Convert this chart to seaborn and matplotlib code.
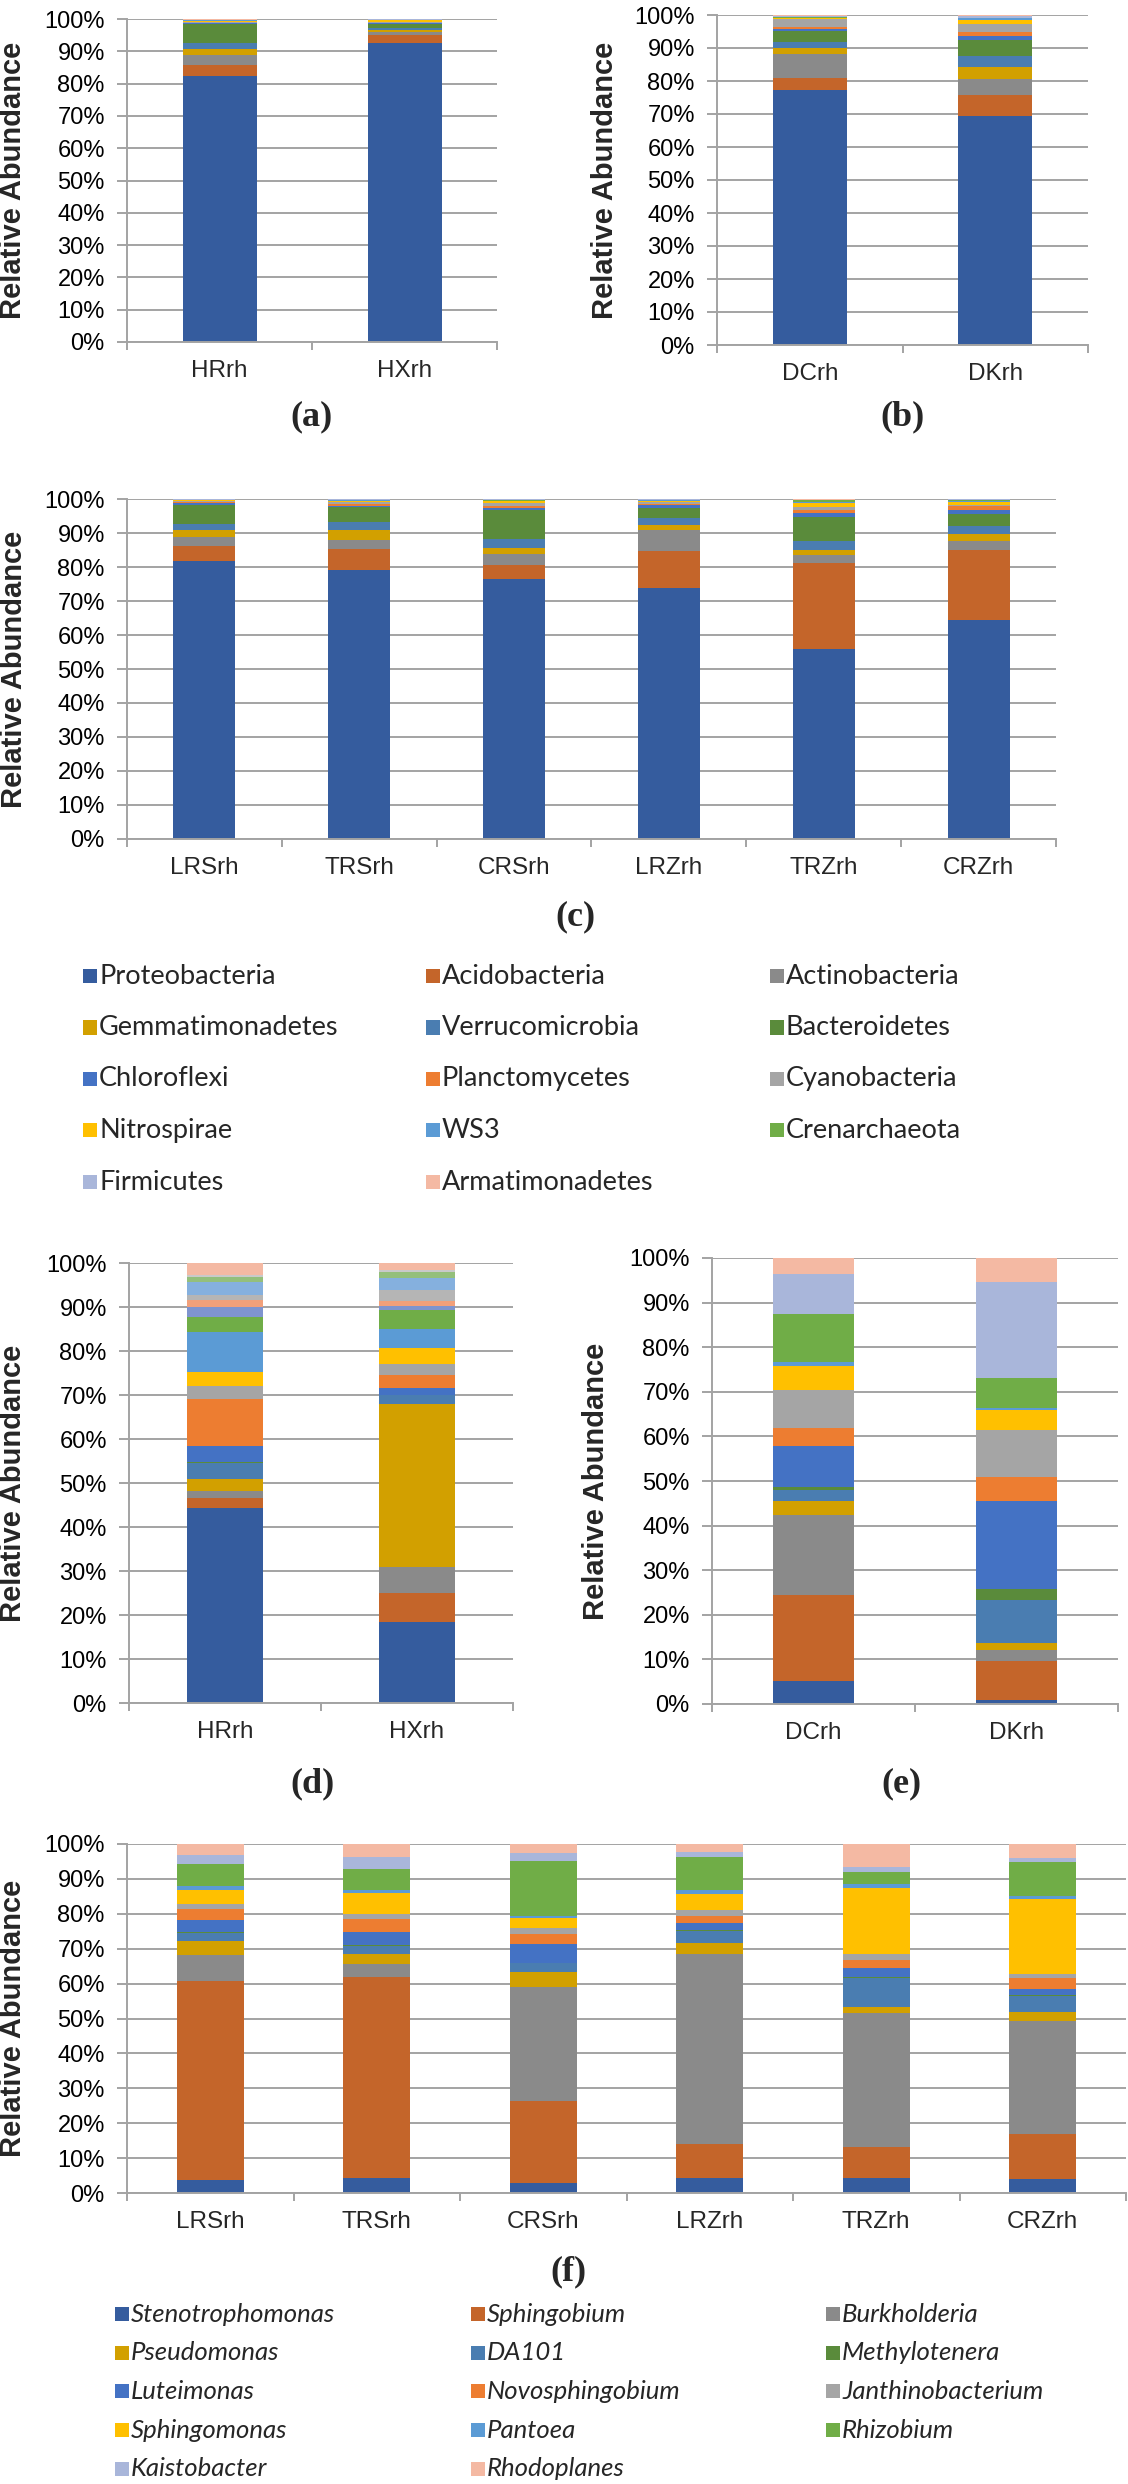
import numpy as np
import matplotlib
matplotlib.use("Agg")
import matplotlib.pyplot as plt
import seaborn as sns
from matplotlib.patches import Rectangle
from matplotlib import font_manager

# ---------------- data ----------------
phyla = ["Proteobacteria", "Acidobacteria", "Actinobacteria", "Gemmatimonadetes",
         "Verrucomicrobia", "Bacteroidetes", "Chloroflexi", "Planctomycetes",
         "Cyanobacteria", "Nitrospirae", "WS3", "Crenarchaeota", "Firmicutes",
         "Armatimonadetes"]
genera = ["Stenotrophomonas", "Sphingobium", "Burkholderia", "Pseudomonas", "DA101",
          "Methylotenera", "Luteimonas", "Novosphingobium", "Janthinobacterium",
          "Sphingomonas", "Pantoea", "Rhizobium", "Kaistobacter", "Rhodoplanes"]

palette14 = ["#355c9e", "#c4652a", "#8a8a8a", "#d2a000", "#4a7db1", "#5a8b3b",
             "#4472c4", "#ed7d31", "#a5a5a5", "#ffc000", "#5b9bd5", "#70ad47",
             "#a9b6da", "#f4b9a3"]
# panel (d) shows a few extra minor genera above Rhizobium
extra_colors_d = ["#7f94ce", "#f2a07a", "#b5b5b5", "#85b0de", "#94bf7b", "#c9c9c9"]

samples_a = ["HRrh", "HXrh"]
samples_b = ["DCrh", "DKrh"]
samples_c = ["LRSrh", "TRSrh", "CRSrh", "LRZrh", "TRZrh", "CRZrh"]

# percent per phylum, one row per sample
phylum_a = [[82.3, 3.4, 3.3, 1.6, 2.1, 5.8, 0.2, 0.2, 0.3, 0.3, 0.1, 0.1, 0.1, 0.2],
            [92.6, 2.4, 1.0, 0.5, 0.8, 1.3, 0.1, 0.2, 0.3, 0.4, 0.1, 0.1, 0.1, 0.1]]
phylum_b = [[77.3, 3.5, 7.5, 1.7, 1.7, 3.5, 0.6, 0.7, 2.2, 0.3, 0.2, 0.3, 0.2, 0.2],
            [69.4, 6.4, 4.7, 3.7, 3.4, 4.7, 1.4, 1.2, 2.4, 1.2, 0.5, 0.2, 0.6, 0.2]]
phylum_c = [[81.8, 4.4, 2.6, 2.1, 1.8, 5.4, 0.6, 0.3, 0.3, 0.3, 0.1, 0.1, 0.1, 0.1],
            [79.2, 6.2, 2.4, 3.0, 2.4, 4.4, 0.4, 0.4, 0.6, 0.4, 0.2, 0.2, 0.1, 0.1],
            [76.5, 4.2, 3.2, 1.8, 2.5, 8.5, 0.6, 0.5, 1.0, 0.5, 0.2, 0.2, 0.2, 0.1],
            [73.9, 10.7, 6.4, 1.3, 2.1, 3.1, 0.7, 0.3, 0.6, 0.4, 0.1, 0.2, 0.1, 0.1],
            [55.8, 25.3, 2.5, 1.5, 2.6, 6.9, 1.4, 0.9, 0.7, 1.3, 0.3, 0.4, 0.2, 0.2],
            [64.4, 20.5, 2.8, 2.1, 2.4, 3.4, 1.2, 1.0, 0.4, 0.8, 0.5, 0.2, 0.2, 0.1]]

# percent per genus; panel d: 12 genera, 6 minor extras, Rhodoplanes
genus_d = [[44.4, 2.3, 1.4, 2.9, 3.6, 0.1, 3.7, 10.8, 2.8, 3.2, 9.2, 3.3,
            2.3, 1.5, 1.3, 2.8, 1.3, 0.4, 2.7],
           [18.3, 6.8, 5.8, 37.0, 2.1, 0.1, 1.5, 2.9, 2.5, 3.6, 4.4, 4.3,
            1.0, 1.1, 2.4, 2.9, 1.3, 0.5, 1.5]]
genus_e = [[5.1, 19.4, 17.9, 3.1, 2.4, 0.7, 9.2, 4.1, 8.5, 5.4, 0.9, 10.7, 9.1, 3.5],
           [1.0, 8.7, 2.5, 1.5, 9.7, 2.3, 19.8, 5.4, 10.5, 4.6, 0.3, 6.8, 21.6, 5.3]]
genus_f = [[3.6, 57.2, 7.5, 3.9, 2.2, 0.4, 3.3, 3.3, 1.4, 3.9, 1.2, 6.4, 2.6, 3.1],
           [4.3, 57.5, 3.8, 3.0, 2.2, 0.3, 3.8, 3.6, 1.4, 6.1, 0.8, 6.1, 3.5, 3.6],
           [2.9, 23.4, 32.7, 4.3, 2.6, 0.1, 5.4, 2.7, 1.7, 2.9, 0.6, 15.8, 2.2, 2.7],
           [4.3, 9.7, 54.4, 3.2, 3.5, 0.2, 2.2, 1.9, 1.7, 4.5, 1.1, 9.7, 1.3, 2.3],
           [4.3, 8.9, 38.3, 1.9, 8.2, 0.2, 2.8, 2.3, 1.7, 18.8, 1.0, 3.5, 1.4, 6.7],
           [3.9, 13.1, 32.3, 2.6, 4.6, 0.2, 1.8, 3.0, 1.3, 21.3, 1.0, 9.6, 1.4, 3.9]]


def pick_font(names, default="DejaVu Sans"):
    have = {f.name for f in font_manager.fontManager.ttflist}
    for n in names:
        if n in have:
            return n
    return default


SANS = pick_font(["Liberation Sans", "Arial"])
SERIF = pick_font(["Liberation Serif", "DejaVu Serif"], "DejaVu Serif")
LEG = pick_font(["Lato", "Noto Sans", "Liberation Sans"])

sns.set_theme(style="white")
plt.rcParams["font.family"] = [SANS, "DejaVu Sans"]

W, H = 1128, 2484
GRID = "#a3a3a3"
fig = plt.figure(figsize=(W / 100, H / 100), dpi=100)


def px_axes(x0, y0, x1, y1):
    return fig.add_axes([x0 / W, 1 - y1 / H, (x1 - x0) / W, (y1 - y0) / H])


def stacked(box, samples, table, colors, ylab_x, title, title_xy):
    ax = px_axes(*box)
    table = np.array(table)
    cum = table.cumsum(axis=1)
    # draw cumulative totals from the top series downwards
    for j in range(table.shape[1] - 1, -1, -1):
        sns.barplot(x=samples, y=cum[:, j], color=colors[j], width=0.4,
                    saturation=1, linewidth=0, errorbar=None, ax=ax)
    n = len(samples)
    ax.set_xlim(-0.5, n - 0.5)
    ax.set_ylim(0, 100)
    ax.set_yticks(range(0, 101, 10))
    ax.set_yticklabels([f"{t}%" for t in range(0, 101, 10)])
    ax.set_xticks(range(n))
    ax.set_xticklabels(samples)
    ax.set_xticks(np.arange(-0.5, n), minor=True)
    ax.set_axisbelow(True)
    ax.yaxis.grid(True, color=GRID, lw=1.4)
    ax.tick_params(axis="y", length=7, width=1.4, color=GRID, pad=9,
                   labelsize=17, labelcolor="black", left=True)
    ax.tick_params(axis="x", which="major", length=0, pad=13, labelsize=17.5)
    ax.tick_params(axis="x", which="minor", length=6, width=1.4, color=GRID,
                   bottom=True, direction="out")
    ax.set_xlabel("")
    ax.set_ylabel("")
    for s in ["top", "right"]:
        ax.spines[s].set_visible(False)
    for s in ["left", "bottom"]:
        ax.spines[s].set_color(GRID)
        ax.spines[s].set_linewidth(1.4)
    yc = (box[1] + box[3]) / 2
    fig.text(ylab_x / W, 1 - yc / H, "Relative Abundance", rotation=90,
             ha="center", va="center", fontsize=21, fontweight="bold")
    fig.text(title_xy[0] / W, 1 - title_xy[1] / H, title, ha="center", va="center",
             fontsize=26, fontweight="bold", family=SERIF)
    return ax


stacked((127, 19, 497, 342), samples_a, phylum_a, palette14, 13, "(a)", (312, 417))
stacked((717, 15, 1088, 345), samples_b, phylum_b, palette14, 605, "(b)", (902, 417))
stacked((127, 499, 1056, 839), samples_c, phylum_c, palette14, 14, "(c)", (575, 917))
stacked((129, 1263, 513, 1703), samples_a, genus_d,
        palette14[:12] + extra_colors_d + [palette14[13]], 13, "(d)", (313, 1784))
stacked((712, 1258, 1118, 1704), samples_b, genus_e, palette14, 596, "(e)", (901, 1784))
stacked((127, 1844, 1126, 2193), samples_c, genus_f, palette14, 13, "(f)", (568, 2272))


def legend(names, col_x, row0, dy, style, size):
    for i, name in enumerate(names):
        r, c = divmod(i, 3)
        y = row0 + r * dy
        x = col_x[c]
        fig.add_artist(Rectangle((x / W, 1 - (y + 7) / H), 14 / W, 14 / H,
                                 transform=fig.transFigure, color=palette14[i], lw=0))
        fig.text((x + 16) / W, 1 - y / H, name, ha="left", va="center",
                 fontsize=size, family=LEG, style=style)


legend(phyla, [83, 426, 770], 976, 51.5, "normal", 19.5)
legend(genera, [115, 471, 826], 2314, 38.7, "italic", 18.5)

fig.savefig("out.png", dpi=100)
